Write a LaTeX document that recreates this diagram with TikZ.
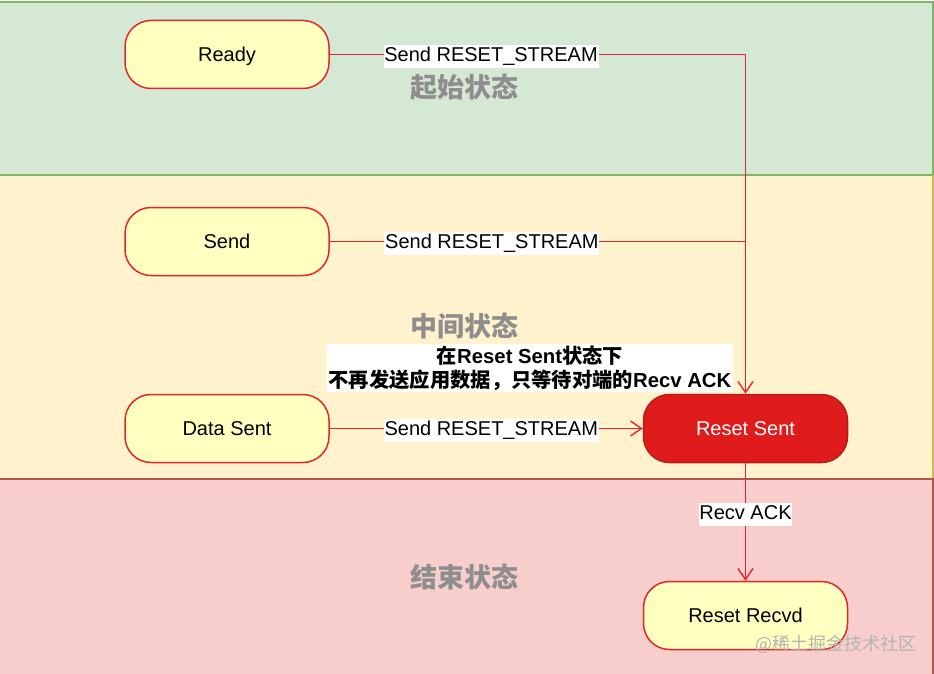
\documentclass[tikz,border=0pt]{standalone}
\usepackage{fontspec}
\setmainfont{Liberation Sans}
\newfontfamily\cjk{Noto Sans CJK SC}
\usetikzlibrary{arrows.meta}
\definecolor{gfill}{HTML}{D5E8D4}
\definecolor{gline}{HTML}{82B366}
\definecolor{yfill}{HTML}{FFF2CC}
\definecolor{yline}{HTML}{D6B656}
\definecolor{rfill}{HTML}{F8CECC}
\definecolor{rline}{HTML}{B85450}
\definecolor{nfill}{HTML}{FFFFC0}
\definecolor{nline}{HTML}{E3262C}
\definecolor{hotfill}{HTML}{E01B1B}
\definecolor{hotline}{HTML}{B71C1C}
\definecolor{bandtxt}{HTML}{8E8E8E}
\definecolor{wm}{HTML}{B4B4B4}
\tikzset{
  state/.style={draw=nline, fill=nfill, line width=1.5pt, rounded corners=26pt,
    minimum width=204pt, minimum height=68pt, text height=14.4pt, text depth=0pt,
    font=\fontsize{20}{24}\selectfont},
  hot/.style={state, fill=hotfill, draw=hotline, text=white},
  bandlabel/.style={font=\fontsize{27}{30}\selectfont\cjk\bfseries, text=bandtxt},
  conn/.style={draw=nline, line width=1.5pt},
  arr/.style={conn, -{Straight Barb[length=11pt,width=15pt,line width=1.4pt]}},
  elabel/.style={fill=white, inner sep=0.8pt, text height=16pt, text depth=5.5pt, yshift=-2pt,
    font=\fontsize{20}{24}\selectfont, text=black},
}
\begin{document}
\begin{tikzpicture}[x=1pt,y=-1pt]
\useasboundingbox (0,0) rectangle (934,674);
% bands
\fill[gfill] (0,2) rectangle (933,175);
\draw[gline, line width=1.2pt] (0,2) -- (933,2) -- (933,175);
\fill[yfill] (0,175) rectangle (933,479);
\draw[yline, line width=1.2pt] (933,175) -- (933,479);
\fill[rfill] (0,479) rectangle (933,675);
\draw[rline, line width=1.2pt] (0,479) -- (933,479) -- (933,675);
\draw[gline, line width=1.2pt] (0,175) -- (933,175);

\node[bandlabel] (lab1) at (464,87) {起始状态};
\node[bandlabel] (lab2) at (464,326) {中间状态};
\node[bandlabel] (lab3) at (464,577) {结束状态};

% states
\node[state] (ready) at (227,54.5) {Ready};
\node[state] (send) at (227,241.5) {Send};
\node[state] (dsent) at (227,428.5) {Data Sent};
\node[hot] (rsent) at (745.5,428.5) {Reset Sent};
\node[state] (rrecvd) at (745.5,615.5) {Reset Recvd};

\coordinate (c1) at (rsent.north |- ready.east);
\coordinate (c2) at (rsent.north |- send.east);

% connectors
\draw[conn] (ready.east) -- node[elabel, pos=0.388] (l1) {Send RESET\_STREAM} (c1);
\draw[arr] (c1) -- (rsent.north);
\draw[conn] (send.east) -- node[elabel, pos=0.39] (l2) {Send RESET\_STREAM} (c2);
\draw[arr] (dsent.east) -- node[elabel, pos=0.516] (l3) {Send RESET\_STREAM} (rsent.west);
\draw[arr] (rsent.south) -- node[elabel, pos=0.42] (l4) {Recv ACK} (rrecvd.north);

% annotation
\node[fill=white, inner sep=1.5pt, align=center, font=\fontsize{20.3}{24}\selectfont\bfseries] (note) at (530,368)
  {{\cjk 在}Reset Sent{\cjk 状态下}\\{\cjk 不再发送应用数据，只等待对端的}Recv ACK};

% watermark
\node[font=\fontsize{18}{20}\selectfont\cjk, text=wm, anchor=west] (wmark) at (752,644) {@稀土掘金技术社区};
\end{tikzpicture}
\end{document}
